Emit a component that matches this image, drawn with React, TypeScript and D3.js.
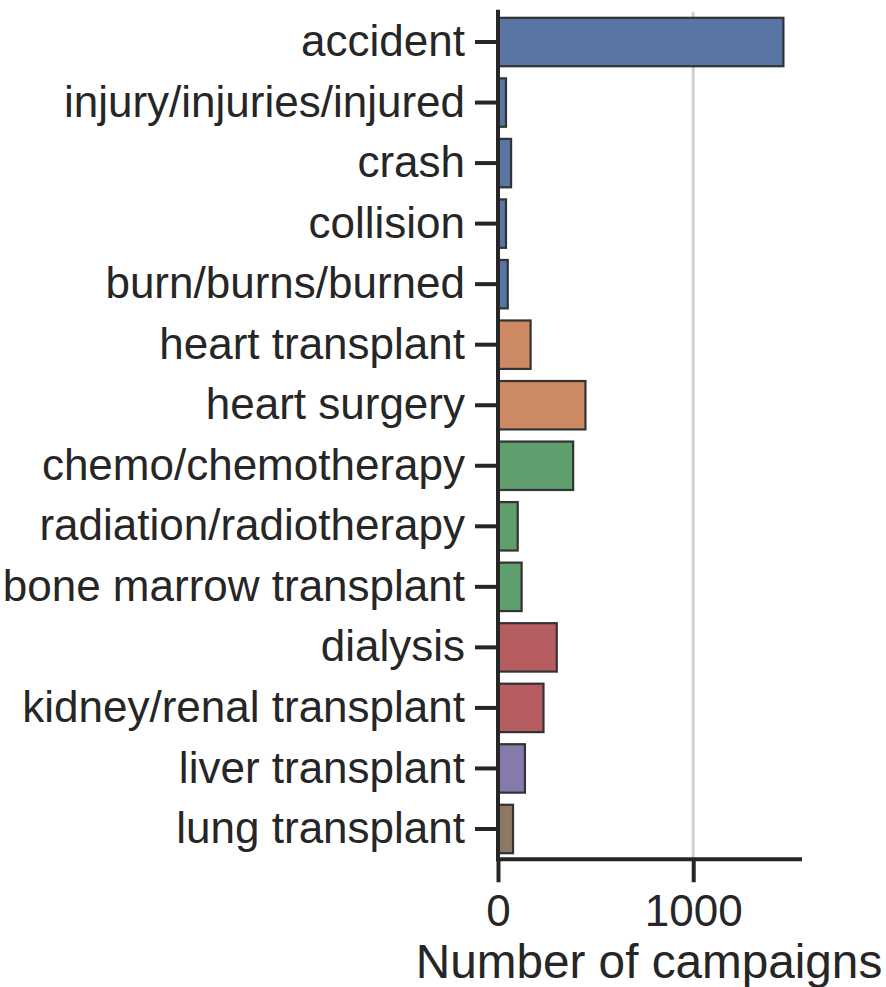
import React, { useEffect, useRef } from 'react';
import * as d3 from 'd3';

// categories top to bottom
const terms = [
  'accident',
  'injury/injuries/injured',
  'crash',
  'collision',
  'burn/burns/burned',
  'heart transplant',
  'heart surgery',
  'chemo/chemotherapy',
  'radiation/radiotherapy',
  'bone marrow transplant',
  'dialysis',
  'kidney/renal transplant',
  'liver transplant',
  'lung transplant',
];

const campaigns = [1462, 41, 67, 41, 50, 167, 448, 385, 101, 121, 301, 233, 138, 77];

// group of each term (drives the colour)
const groups = [
  'injury', 'injury', 'injury', 'injury', 'injury',
  'heart', 'heart',
  'cancer', 'cancer', 'cancer',
  'kidney', 'kidney',
  'liver',
  'lung',
];

const groupNames = ['injury', 'heart', 'cancer', 'kidney', 'liver', 'lung'];
const groupColors = ['#5875a4', '#cc8963', '#5f9e6e', '#b55d60', '#857aab', '#8d7866'];

const xTicks = [0, 1000];
const xLabel = 'Number of campaigns';

const W = 886;
const H = 987;
const ink = '#262626';
const font = '"Liberation Sans", Arial, Helvetica, sans-serif';

export default function App() {
  const svgRef = useRef<SVGSVGElement | null>(null);

  useEffect(() => {
    if (!svgRef.current) return;
    const root = d3.select(svgRef.current);
    root.selectAll('*').remove();

    const left = 498, right = 800, top = 11.75, bottom = 859.25;

    const x = d3.scaleLinear().domain([0, 1547]).range([left, right]);
    const y = d3.scaleBand<string>().domain(terms).range([top, bottom]).paddingInner(0.2).paddingOuter(0.1);
    const color = d3.scaleOrdinal<string, string>().domain(groupNames).range(groupColors);

    // vertical grid line
    root.append('g')
      .selectAll('line')
      .data(xTicks.filter(t => t > 0))
      .enter()
      .append('line')
      .attr('x1', d => x(d)).attr('x2', d => x(d))
      .attr('y1', top).attr('y2', bottom)
      .attr('stroke', '#d0d0d0')
      .attr('stroke-width', 3);

    // bars
    root.append('g')
      .selectAll('rect')
      .data(terms)
      .enter()
      .append('rect')
      .attr('x', x(0))
      .attr('y', d => y(d) as number)
      .attr('width', (_, i) => x(campaigns[i]) - x(0))
      .attr('height', y.bandwidth())
      .attr('fill', (_, i) => color(groups[i]))
      .attr('stroke', '#333333')
      .attr('stroke-width', 2.2);

    // x axis
    const gx = root.append('g')
      .attr('transform', `translate(0,${bottom})`)
      .call(d3.axisBottom(x).tickValues(xTicks).tickFormat(d3.format('d')).tickSize(23).tickSizeOuter(0).tickPadding(13));
    gx.select('.domain')
      .attr('d', `M${left},0H${right}`)
      .attr('stroke', ink).attr('stroke-width', 4).attr('stroke-linecap', 'square');
    gx.selectAll('.tick line').attr('stroke', ink).attr('stroke-width', 4);
    gx.selectAll('.tick text')
      .attr('fill', ink)
      .style('font-family', font)
      .style('font-size', '44px');

    // y axis
    const gy = root.append('g')
      .attr('transform', `translate(${left},0)`)
      .call(d3.axisLeft(y).tickSize(23).tickSizeOuter(0).tickPadding(10));
    gy.select('.domain')
      .attr('d', `M0,${top}V${bottom}`)
      .attr('stroke', ink).attr('stroke-width', 4).attr('stroke-linecap', 'square');
    gy.selectAll('.tick line').attr('stroke', ink).attr('stroke-width', 4);
    gy.selectAll('.tick text')
      .attr('fill', ink)
      .style('font-family', font)
      .style('font-size', '44px');

    // x label
    root.append('text')
      .attr('x', (left + right) / 2)
      .attr('y', 978)
      .attr('text-anchor', 'middle')
      .attr('fill', ink)
      .style('font-family', font)
      .style('font-size', '47.7px')
      .text(xLabel);
  }, []);

  return (
    <div style={{ position: 'absolute', left: 0, top: 0, width: W, height: H, background: '#fff' }}>
      <svg ref={svgRef} width={W} height={H} style={{ display: 'block' }} />
    </div>
  );
}
